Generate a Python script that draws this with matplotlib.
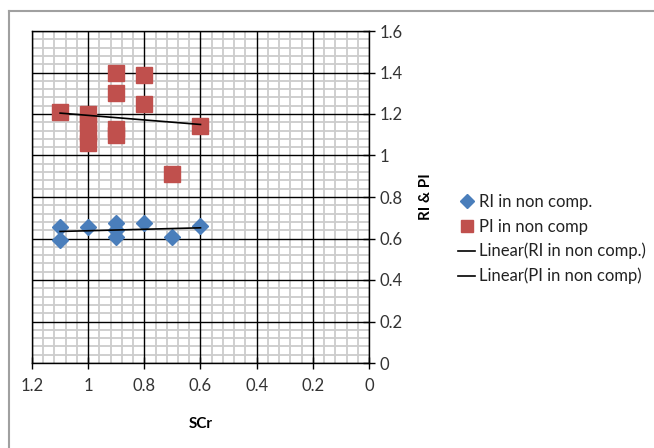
import numpy as np
import matplotlib
matplotlib.use("Agg")
import matplotlib.pyplot as plt
from matplotlib.lines import Line2D

plt.rcParams["font.family"] = ["Lato", "DejaVu Sans"]

# ---------------------------------------------------------------------
# Data
ri_x = [1.1, 1.1, 1.0, 0.9, 0.9, 0.9, 0.8, 0.7, 0.6]
ri_y = [0.657, 0.593, 0.655, 0.673, 0.641, 0.609, 0.673, 0.609, 0.662]

pi_x = [1.1, 1.0, 1.0, 1.0, 1.0, 0.9, 0.9, 0.9, 0.9, 0.8, 0.8, 0.7, 0.6]
pi_y = [1.21, 1.20, 1.16, 1.11, 1.06, 1.40, 1.30, 1.13, 1.10, 1.39, 1.25, 0.91, 1.14]

labels = ["RI in non comp.", "PI in non comp",
          "Linear(RI in non comp.)", "Linear(PI in non comp)"]

x_ticks = [0, 0.2, 0.4, 0.6, 0.8, 1.0, 1.2]
x_ticklabels = ["0", "0.2", "0.4", "0.6", "0.8", "1", "1.2"]
y_ticks = [0, 0.2, 0.4, 0.6, 0.8, 1.0, 1.2, 1.4, 1.6]
y_ticklabels = ["0", "0.2", "0.4", "0.6", "0.8", "1", "1.2", "1.4", "1.6"]

blue = "#4a7ebb"
red = "#c0504d"

fig = plt.figure(figsize=(6.54, 4.48), dpi=100)
ax = fig.add_axes([32 / 654, 85 / 448, 337 / 654, 332 / 448])

ax.set_xlim(1.2, 0)
ax.set_ylim(0, 1.6)

# minor grid every 0.04, drawn under the black major grid
def minor_positions(top):
    vals = np.round(np.arange(0, top + 1e-9, 0.04), 2)
    return [v for v in vals if abs(v / 0.2 - round(v / 0.2)) > 1e-6]

for v in minor_positions(1.2):
    ax.axvline(v, color="#cccccc", lw=1.3, zorder=0.1)
for v in minor_positions(1.6):
    ax.axhline(v, color="#cccccc", lw=1.3, zorder=0.1)

ax.set_xticks(x_ticks)
ax.set_xticklabels(x_ticklabels)
ax.set_yticks(y_ticks)
ax.set_yticklabels(y_ticklabels)
ax.grid(True, which="major", color="black", lw=1.0)
ax.set_axisbelow(True)

# scatter
ax.plot(ri_x, ri_y, ls="none", marker="D", ms=8, color=blue, zorder=3)
ax.plot(pi_x, pi_y, ls="none", marker="s", ms=12, color=red, zorder=3)

# linear trend lines
for xs, ys in [(ri_x, ri_y), (pi_x, pi_y)]:
    k, b = np.polyfit(xs, ys, 1)
    xx = np.array([max(xs), min(xs)])
    ax.plot(xx, k * xx + b, color="black", lw=1.2, zorder=4)

for sp in ax.spines.values():
    sp.set_color("black")
    sp.set_linewidth(1.0)

ax.yaxis.tick_right()
ax.yaxis.set_label_position("right")
ax.tick_params(axis="both", which="major", direction="inout", length=9,
               width=1, labelsize=12, colors="black", labelcolor="#333333")
ax.tick_params(axis="x", pad=6)
ax.tick_params(axis="y", pad=3)

ax.set_xlabel("SCr", fontsize=11, fontweight="bold", labelpad=17)
ax.set_ylabel("RI & PI", fontsize=11, fontweight="bold", labelpad=12)

# legend
handles = [
    Line2D([], [], ls="none", marker="D", ms=7, color=blue),
    Line2D([], [], ls="none", marker="s", ms=9, color=red),
    Line2D([], [], color="black", lw=1.2),
    Line2D([], [], color="black", lw=1.2),
]
fig.legend(handles, labels, loc="upper left", bbox_to_anchor=(0.688, 0.585),
           frameon=False, fontsize=12, handlelength=1.0, handletextpad=0.25,
           labelspacing=0.5, borderpad=0, labelcolor="#222222")

# outer chart border (top and left edges visible)
fig.add_artist(Line2D([9 / 654, 1.0], [1 - 11 / 448, 1 - 11 / 448],
                      color="#a0a0a0", lw=1.5, transform=fig.transFigure))
fig.add_artist(Line2D([9 / 654, 9 / 654], [0, 1 - 11 / 448],
                      color="#a0a0a0", lw=1.5, transform=fig.transFigure))

fig.savefig("out.png", dpi=100)
